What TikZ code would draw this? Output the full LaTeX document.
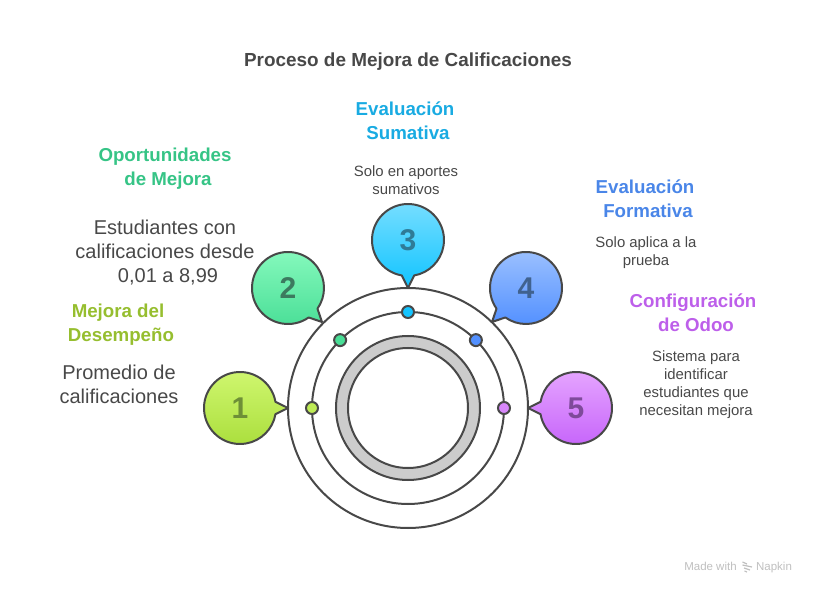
\documentclass[tikz,border=0pt]{standalone}
\usepackage{fontspec}
\setmainfont{Liberation Sans}
\definecolor{inkgray}{HTML}{484848}
\definecolor{ringgray}{HTML}{CCCCCC}
\definecolor{marklime}{HTML}{96BE2F}
\definecolor{markgreen}{HTML}{36C486}
\definecolor{marksky}{HTML}{19ABE2}
\definecolor{markblue}{HTML}{4A86E8}
\definecolor{markviolet}{HTML}{BD5FEA}
\tikzset{
  ringline/.style={draw=inkgray,line width=2pt},
  bubble/.style={draw=inkgray,line width=2pt,line join=round},
  titletext/.style={text=inkgray,font=\fontsize{18.9}{24}\selectfont\bfseries},
  headtext/.style={align=center,font=\fontsize{18.7}{24}\selectfont\bfseries},
  bigtext/.style={align=center,text=inkgray,font=\fontsize{20}{24}\selectfont},
  smalltext/.style={align=center,text=inkgray,font=\fontsize{14.9}{18}\selectfont},
  numtext/.style={font=\fontsize{30}{30}\selectfont\bfseries},
  dotmark/.style={circle,draw=inkgray,line width=2pt,minimum size=12pt,inner sep=0pt},
  footertext/.style={anchor=base,text=black!25,font=\fontsize{11.5}{12}\selectfont}
}
\begin{document}
\begin{tikzpicture}[x=1pt,y=1pt]
    \useasboundingbox (-408,-186) rectangle (408,408);

    \node[titletext] (title) at (0,346.5) {Proceso de Mejora de Calificaciones};

    %rings
    \draw[ringline] (0,0) circle (120);
    \draw[ringline] (0,0) circle (96);
    \draw[ringline,fill=ringgray,even odd rule] (0,0) circle (72) (0,0) circle (60);

    %bubbles
    \draw[bubble,top color={rgb,255:red,208;green,247;blue,112},bottom color={rgb,255:red,170;green,222;blue,60},shift={(-168,0)}]
        (10:36) arc (10:350:36) -- (0:48) -- cycle;
    \draw[bubble,top color={rgb,255:red,136;green,250;blue,190},bottom color={rgb,255:red,72;green,222;blue,150},shift={(-120,120)}]
        (-55:36) arc (-55:-395:36) -- (-45:48) -- cycle;
    \draw[bubble,top color={rgb,255:red,120;green,222;blue,255},bottom color={rgb,255:red,16;green,196;blue,255},shift={(0,168)}]
        (-100:36) arc (-100:-440:36) -- (-90:48) -- cycle;
    \draw[bubble,top color={rgb,255:red,158;green,194;blue,255},bottom color={rgb,255:red,82;green,144;blue,255},shift={(118,120)}]
        (-145:36) arc (-145:-485:36) -- (-135:48) -- cycle;
    \draw[bubble,top color={rgb,255:red,230;green,166;blue,255},bottom color={rgb,255:red,198;green,100;blue,250},shift={(168,0)}]
        (190:36) arc (190:530:36) -- (180:48) -- cycle;

    %numbers
    \node[numtext,text={rgb,255:red,110;green,143;blue,55}] (numa) at (-168,0) {1};
    \node[numtext,text={rgb,255:red,60;green,122;blue,95}] (numb) at (-120,120) {2};
    \node[numtext,text={rgb,255:red,47;green,123;blue,151}] (numc) at (0,168) {3};
    \node[numtext,text={rgb,255:red,64;green,98;blue,143}] (numd) at (118,120) {4};
    \node[numtext,text={rgb,255:red,126;green,74;blue,154}] (nume) at (168,0) {5};

    %dots on the middle ring
    \node[dotmark,fill={rgb,255:red,190;green,235;blue,85}] (dota) at (180:96) {};
    \node[dotmark,fill={rgb,255:red,72;green,222;blue,150}] (dotb) at (135:96) {};
    \node[dotmark,fill={rgb,255:red,20;green,196;blue,255}] (dotc) at (90:96) {};
    \node[dotmark,fill={rgb,255:red,82;green,144;blue,255}] (dotd) at (45:96) {};
    \node[dotmark,fill={rgb,255:red,215;green,135;blue,250}] (dote) at (0:96) {};

    %texts
    \node[headtext,text=marklime] (heada) at (-290,83.5) {Mejora del\\\hspace*{6pt}Desempeño};
    \node[bigtext] (texta) at (-289,23.5) {Promedio de\\calificaciones};

    \node[headtext,text=markgreen] (headb) at (-243,239.5) {Oportunidades\\\hspace*{6pt}de Mejora};
    \node[bigtext] (textb) at (-243,155.5) {Estudiantes con\\calificaciones desde\\\hspace*{6pt}0,01 a 8,99};

    \node[headtext,text=marksky] (headc) at (-3,287.5) {Evaluación\\\hspace*{6pt}Sumativa};
    \node[smalltext] (textc) at (-2,227.5) {Solo en aportes\\sumativos};

    \node[headtext,text=markblue] (headd) at (237,209.5) {Evaluación\\\hspace*{6pt}Formativa};
    \node[smalltext] (textd) at (238,155.5) {Solo aplica a la\\prueba};

    \node[headtext,text=markviolet] (heade) at (285,95.5) {Configuración\\\hspace*{6pt}de Odoo};
    \node[smalltext] (texte) at (288,23.5) {Sistema para\\identificar\\estudiantes que\\necesitan mejora};

    %footer
    \node[footertext] (madewith) at (302.5,-162) {Made with};
    \node[footertext] (napkin) at (366,-162) {Napkin};
    \draw[black!25,line width=1.2pt] (334.5,-154) -- (339,-156) (334.5,-157) -- (344,-159) (336,-160) -- (342,-162) (336.5,-163) -- (339,-164);
\end{tikzpicture}
\end{document}
